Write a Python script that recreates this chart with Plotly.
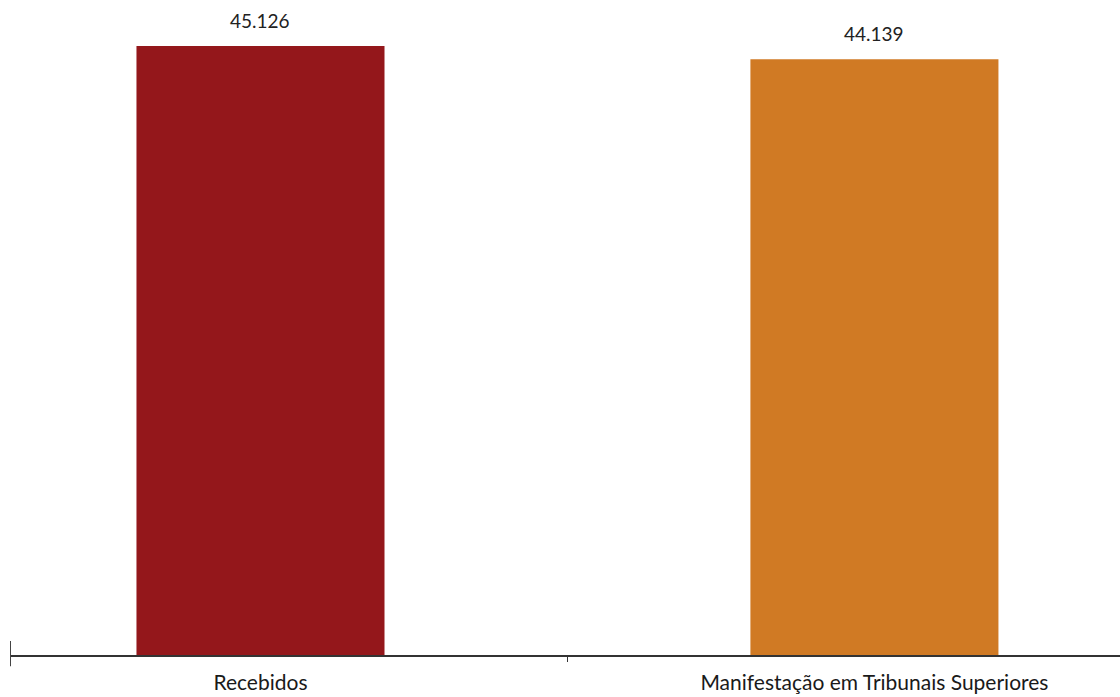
import plotly.graph_objects as go

categories = ["Recebidos", "Manifestação em Tribunais Superiores"]
values = [45126, 44139]
colors = ["#94171B", "#D07A24"]

FONT = "Lato"

fig = go.Figure()
fig.add_trace(go.Bar(
    x=categories, y=values, marker_color=colors, marker_line_width=0,
    width=0.404, hoverinfo="skip",
))

for c, v in zip(categories, values):
    fig.add_annotation(
        x=c, y=v, text=f"{v:,}".replace(",", "."), showarrow=False,
        yanchor="bottom", yshift=12,
        font=dict(family=FONT, size=19, color="#222"),
    )

# tall tick at left end of axis
fig.add_shape(type="line", xref="x", yref="paper", x0=-0.408, x1=-0.408,
              y0=0.0215, y1=-0.017, line=dict(color="#444", width=2))

fig.update_layout(
    width=1120, height=697,
    margin=dict(l=10, r=0, t=0, b=42, autoexpand=False),
    paper_bgcolor="white", plot_bgcolor="white",
    showlegend=False,
    separators=",.",
    xaxis=dict(
        type="category", range=[-0.408, 1.400], automargin=False,
        showline=True, linecolor="#333", linewidth=1.5,
        ticks="outside", tickson="boundaries", ticklen=5, tickcolor="#333",
        tickwidth=1, ticklabelstandoff=8,
        tickfont=dict(family=FONT, size=21, color="#1a1a1a"),
        showgrid=False, zeroline=False,
    ),
    yaxis=dict(
        range=[0, max(values) * 1.0755], visible=False, automargin=False,
        showgrid=False, zeroline=False,
    ),
)

fig.write_html("out.html", config={"displayModeBar": False, "staticPlot": True})

with open("out.html", encoding="utf-8") as f:
    html = f.read()
html = html.replace("<head>", "<head><style>html,body{margin:0;padding:0;overflow:hidden;}</style>", 1)
with open("out.html", "w", encoding="utf-8") as f:
    f.write(html)
